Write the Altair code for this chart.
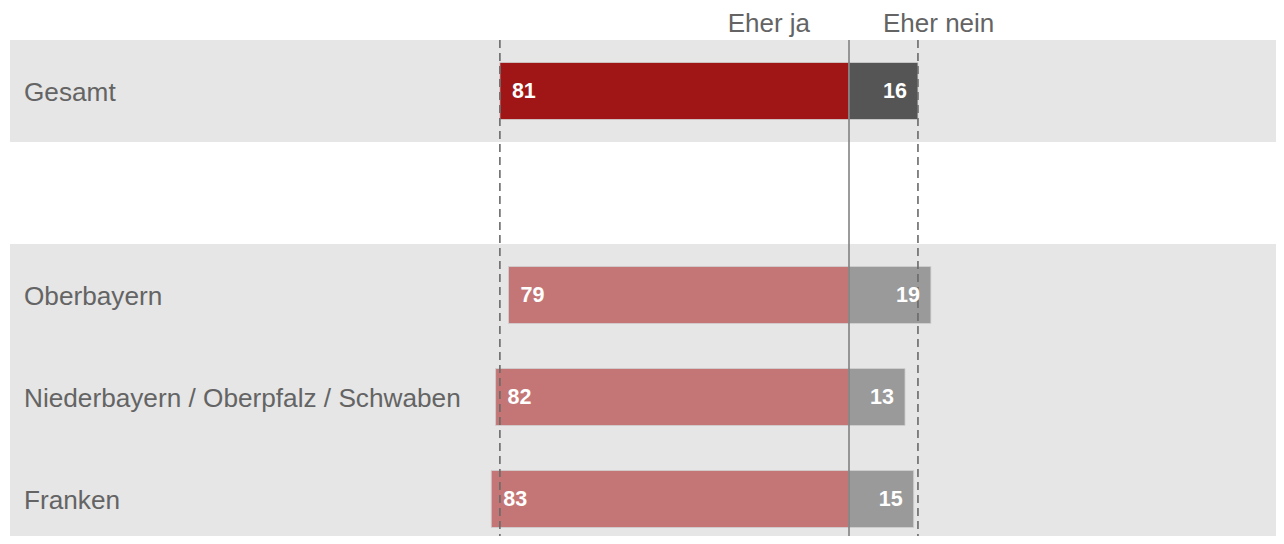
import altair as alt
import pandas as pd

# ---- data ----
rows = ["Gesamt", "_gap", "Oberbayern", "Niederbayern / Oberpfalz / Schwaben", "Franken"]
categories = ["Gesamt", "Oberbayern", "Niederbayern / Oberpfalz / Schwaben", "Franken"]
eher_ja = [81, 79, 82, 83]
eher_nein = [16, 19, 13, 15]
headers = ["Eher ja", "Eher nein"]
header_pos = [-18.6, 20.8]
ref_values = [-81, 16]  # Gesamt reference lines

FONT = "Liberation Sans"
TXT = "#646464"

bars = pd.DataFrame(
    [{"cat": c, "side": "ja", "value": v} for c, v in zip(categories, eher_ja)]
    + [{"cat": c, "side": "nein", "value": v} for c, v in zip(categories, eher_nein)]
)
bg = pd.DataFrame({"cat": categories})
hdr = pd.DataFrame({"label": headers, "pos": header_pos})
refs = pd.DataFrame({"v": ref_values})
zero = pd.DataFrame({"v": [0]})

W, H = 1268, 528
PX = 4.31
ZERO_PX = 841
xscale = alt.Scale(domain=[-ZERO_PX / PX, (W - ZERO_PX) / PX], nice=False, zero=False)
yscale = alt.Scale(domain=rows, range=[32, 542], paddingInner=0, paddingOuter=0)

X = lambda f: alt.X(f, type="quantitative", scale=xscale, axis=None)
Y = alt.Y("cat:N", scale=yscale, axis=None, sort=rows)

background = alt.Chart(bg).mark_rect(color="#E6E6E6").encode(
    x=alt.value(2), x2=alt.value(W), y=Y
)

base = alt.Chart(bars).transform_calculate(
    x0="datum.side == 'ja' ? -datum.value : 0",
    x1="datum.side == 'ja' ? 0 : datum.value",
    key="(datum.cat == 'Gesamt' ? 'G' : 'R') + datum.side",
)

bar_layer = base.mark_bar(size=57, stroke="#d0d0d0", strokeWidth=0.8).encode(
    x=X("x0"),
    x2="x1:Q",
    y=Y,
    color=alt.Color(
        "key:N",
        scale=alt.Scale(
            domain=["Gja", "Gnein", "Rja", "Rnein"],
            range=["#A01515", "#555555", "#C47676", "#9A9A9A"],
        ),
        legend=None,
    ),
)

lbl_ja = base.transform_filter("datum.side == 'ja'").mark_text(
    align="left", baseline="middle", dx=12, dy=1, font=FONT, fontSize=21.5,
    fontWeight="bold", color="white"
).encode(x=X("x0"), y=Y, text="value:Q")

lbl_nein = base.transform_filter("datum.side == 'nein'").mark_text(
    align="right", baseline="middle", dx=-11, dy=1, font=FONT, fontSize=21.5,
    fontWeight="bold", color="white"
).encode(x=X("x1"), y=Y, text="value:Q")

zero_rule = alt.Chart(zero).mark_rule(color="#7a7a7a", strokeWidth=1.5).encode(
    x=X("v"), y=alt.value(32), y2=alt.value(H)
)

ref_rules = alt.Chart(refs).mark_rule(
    color="#6a6a6a", strokeWidth=1.6, strokeDash=[8, 5]
).encode(x=X("v"), y=alt.value(32), y2=alt.value(H))

cat_labels = alt.Chart(bg).mark_text(
    align="left", baseline="middle", dy=1.5, font=FONT, fontSize=26.2, color=TXT
).encode(x=alt.value(16), y=Y, text="cat:N")

header_text = alt.Chart(hdr).mark_text(
    align="center", baseline="alphabetic", font=FONT, fontSize=26, color=TXT
).encode(x=X("pos"), y=alt.value(24), text="label:N")

chart = alt.layer(
    background, bar_layer, ref_rules, zero_rule, lbl_ja, lbl_nein, cat_labels, header_text
).properties(
    width=W, height=H, padding=0, autosize=alt.AutoSizeParams(type="none")
).configure_view(stroke=None)

chart.save("out.html", embed_options={"renderer": "svg", "actions": False})
